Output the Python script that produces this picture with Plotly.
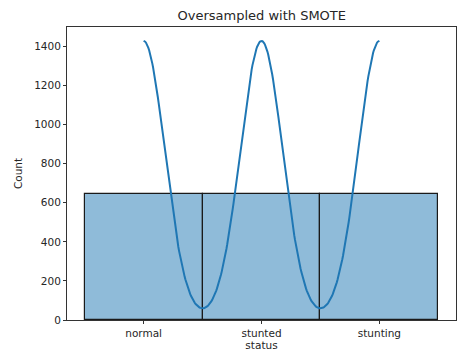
import numpy as np
import plotly.graph_objects as go

# Class counts after SMOTE oversampling
categories = ["normal", "stunted", "stunting"]
counts = [644, 644, 644]

positions = np.arange(len(categories), dtype=float)

# Gaussian kernel density estimate of the class codes (Scott's rule),
# scaled to counts so it sits on the histogram axis
samples = np.repeat(positions, counts)
n = samples.size
bw = samples.std(ddof=1) * n ** (-1 / 5)
grid = np.linspace(positions.min(), positions.max(), 300)
diff = (grid[:, None] - positions[None, :]) / bw
dens = (np.exp(-0.5 * diff ** 2) * np.array(counts)[None, :]).sum(axis=1)
dens /= n * bw * np.sqrt(2 * np.pi)
kde_counts = dens * n * 1.0  # bin width = 1

font = dict(family="DejaVu Sans", size=10.5, color="#262626")

fig = go.Figure()
fig.add_trace(go.Bar(
    x=positions, y=counts, width=1.0,
    marker=dict(color="rgba(31,119,180,0.5)",
                line=dict(color="#1a1a1a", width=1.2)),
    hoverinfo="skip",
))
fig.add_trace(go.Scatter(
    x=grid, y=kde_counts, mode="lines",
    line=dict(color="#1f77b4", width=2),
    hoverinfo="skip",
))

ymax = max(max(counts), kde_counts.max()) * 1.05

fig.update_layout(
    width=458, height=352,
    margin=dict(l=67, r=1.5, t=27, b=32),
    paper_bgcolor="white", plot_bgcolor="white",
    showlegend=False, bargap=0,
    font=font,
    title=dict(text="Oversampled with SMOTE", x=(67 + 456.5) / 2 / 458,
               xanchor="center", y=1 - 15 / 352, yanchor="middle",
               font=dict(family="DejaVu Sans", size=13, color="#262626")),
)
fig.update_xaxes(
    range=[-0.65, 2.65], tickvals=positions, ticktext=categories,
    showgrid=False, zeroline=False,
    showline=True, mirror=True, linecolor="#333333", linewidth=1,
    ticks="outside", ticklen=3, tickcolor="#333333",
    title=dict(text="status", standoff=2, font=font),
)
fig.update_yaxes(
    range=[0, ymax], tickvals=[0, 200, 400, 600, 800, 1000, 1200, 1400],
    showgrid=False, zeroline=False,
    showline=True, mirror=True, linecolor="#333333", linewidth=1,
    ticks="outside", ticklen=3, tickcolor="#333333",
    title=dict(text="Count", standoff=9, font=font),
)

fig.write_html("out.html")
